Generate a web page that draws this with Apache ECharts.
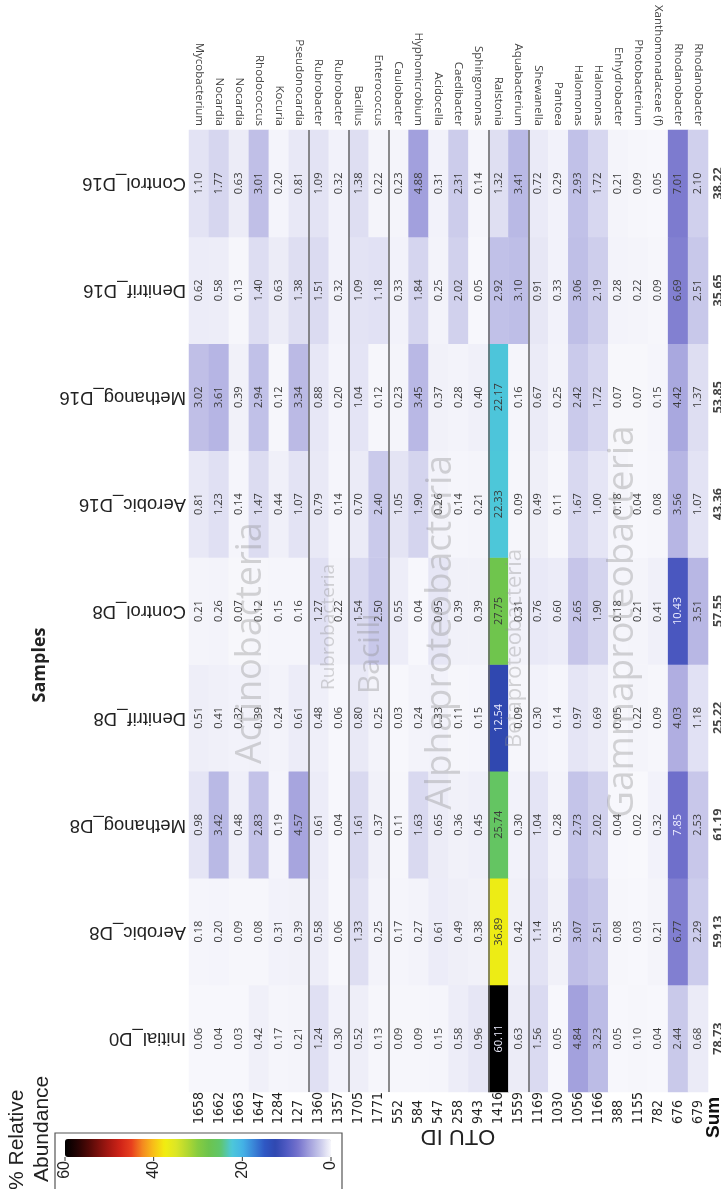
<!DOCTYPE html>
<html lang="en">
<head>
<meta charset="UTF-8">
<title>OTU relative abundance</title>
<script src="https://cdn.jsdelivr.net/npm/echarts@6/dist/echarts.min.js"></script>
<style>html, body { margin: 0; padding: 0; background: #fff; }</style>
</head>
<body>
<div id="container" style="width: 721px; height: 1189px"></div>

<script type="text/javascript">
    // OTU rows of the original table (left to right here)
    var otuIds = ['1658', '1662', '1663', '1647', '1284', '127', '1360', '1357', '1705', '1771',
        '552', '584', '547', '258', '943', '1416', '1559', '1169', '1030', '1056', '1166',
        '388', '1155', '782', '676', '679'];
    var genera = ['Mycobacterium', 'Nocardia', 'Nocardia', 'Rhodococcus', 'Kocuria', 'Pseudonocardia',
        'Rubrobacter', 'Rubrobacter', 'Bacillus', 'Enterococcus', 'Caulobacter', 'Hyphomicrobium',
        'Acidocella', 'Caedibacter', 'Sphingomonas', 'Ralstonia', 'Aquabacterium', 'Shewanella',
        'Pantoea', 'Halomonas', 'Halomonas', 'Enhydrobacter', 'Photobacterium',
        'Xanthomonadaceae (f)', 'Rhodanobacter', 'Rhodanobacter'];
    // samples, bottom to top
    var samples = ['Initial_D0', 'Aerobic_D8', 'Methanog_D8', 'Denitrif_D8', 'Control_D8',
        'Aerobic_D16', 'Methanog_D16', 'Denitrif_D16', 'Control_D16'];

    var initialD0 = [0.06, 0.04, 0.03, 0.42, 0.17, 0.21, 1.24, 0.30, 0.52, 0.13, 0.09, 0.09, 0.15, 0.58, 0.96, 60.11, 0.63, 1.56, 0.05, 4.84, 3.23, 0.05, 0.10, 0.04, 2.44, 0.68];
    var aerobicD8 = [0.18, 0.20, 0.09, 0.08, 0.31, 0.39, 0.58, 0.06, 1.33, 0.25, 0.17, 0.27, 0.61, 0.49, 0.38, 36.89, 0.42, 1.14, 0.35, 3.07, 2.51, 0.08, 0.03, 0.21, 6.77, 2.29];
    var methanogD8 = [0.98, 3.42, 0.48, 2.83, 0.19, 4.57, 0.61, 0.04, 1.61, 0.37, 0.11, 1.63, 0.65, 0.36, 0.45, 25.74, 0.30, 1.04, 0.28, 2.73, 2.02, 0.04, 0.02, 0.32, 7.85, 2.53];
    var denitrifD8 = [0.51, 0.41, 0.32, 0.39, 0.24, 0.61, 0.48, 0.06, 0.80, 0.25, 0.03, 0.24, 0.33, 0.11, 0.15, 12.54, 0.09, 0.30, 0.14, 0.97, 0.69, 0.05, 0.22, 0.09, 4.03, 1.18];
    var controlD8 = [0.21, 0.26, 0.07, 0.12, 0.15, 0.16, 1.27, 0.22, 1.54, 2.50, 0.55, 0.04, 0.95, 0.39, 0.39, 27.75, 0.31, 0.76, 0.60, 2.65, 1.90, 0.18, 0.21, 0.41, 10.43, 3.51];
    var aerobicD16 = [0.81, 1.23, 0.14, 1.47, 0.44, 1.07, 0.79, 0.14, 0.70, 2.40, 1.05, 1.90, 0.26, 0.14, 0.21, 22.33, 0.09, 0.49, 0.11, 1.67, 1.00, 0.18, 0.04, 0.08, 3.56, 1.07];
    var methanogD16 = [3.02, 3.61, 0.39, 2.94, 0.12, 3.34, 0.88, 0.20, 1.04, 0.12, 0.23, 3.45, 0.37, 0.28, 0.40, 22.17, 0.16, 0.67, 0.25, 2.42, 1.72, 0.07, 0.07, 0.15, 4.42, 1.37];
    var denitrifD16 = [0.62, 0.58, 0.13, 1.40, 0.63, 1.38, 1.51, 0.32, 1.09, 1.18, 0.33, 1.84, 0.25, 2.02, 0.05, 2.92, 3.10, 0.91, 0.33, 3.06, 2.19, 0.28, 0.22, 0.09, 6.69, 2.51];
    var controlD16 = [1.10, 1.77, 0.63, 3.01, 0.20, 0.81, 1.09, 0.32, 1.38, 0.22, 0.23, 4.88, 0.31, 2.31, 0.14, 1.32, 3.41, 0.72, 0.29, 2.93, 1.72, 0.21, 0.09, 0.05, 7.01, 2.10];
    var sums = [78.73, 59.13, 61.19, 25.22, 57.55, 43.36, 53.85, 35.65, 38.22];

    var groups = ['Actinobacteria', 'Rubrobacteria', 'Bacilli', 'Alphaproteobacteria', 'Betaproteobacteria', 'Gammaproteobacteria'];
    var groupStart = [0, 6, 8, 10, 15, 17];
    var legendTicks = [60, 40, 20, 0];

    // layout / style (not data)
    var wmLayout = [
        {x: 3.1, y: 4.2, size: 36},
        {x: 7.0, y: 4.35, size: 19},
        {x: 9.1, y: 4.1, size: 30},
        {x: 12.6, y: 4.3, size: 37},
        {x: 16.3, y: 4.15, size: 22},
        {x: 21.7, y: 4.4, size: 37}
    ];
    var colorScale = ['#f8f8fc', '#c8c8ea', '#a09edc', '#7472cc', '#505ac2', '#3048b0', '#2f58c4',
        '#3a86d8', '#44b4e6', '#4ec8d8', '#60c66a', '#6cc44e', '#86cc40', '#b4d830', '#dce626',
        '#f2ee10', '#f8c018', '#f48a20', '#e8401e', '#d02418', '#a81812', '#7a100c', '#4a0806',
        '#200303', '#000000'];
    var barLeft = 65, barTop = 1139, barLen = 266, barThick = 18;

    var xCats = otuIds.concat(['Sum']);
    var values = [initialD0, aerobicD8, methanogD8, denitrifD8, controlD8,
        aerobicD16, methanogD16, denitrifD16, controlD16];

    // light text only on the dark blue and black cells
    function labelColor(v) {
        return (v > 7.5 && v < 20) || v > 45 ? '#eeeeff' : '#3a3a3a';
    }

    var heatData = [];
    values.forEach(function (row, s) {
        row.forEach(function (v, i) {
            heatData.push({value: [i, s, v], label: {color: labelColor(v)}});
        });
    });

    var dom = document.getElementById('container');
    var myChart = echarts.init(dom, null, {renderer: 'canvas'});

    var option = {
        animation: false,
        backgroundColor: '#fff',
        grid: {left: 189, top: 130, width: 539, height: 962, containLabel: false, outerBoundsMode: 'none'},
        xAxis: [
            {
                type: 'category', data: xCats, position: 'bottom',
                axisLine: {show: false}, axisTick: {show: false}, splitLine: {show: false},
                axisLabel: {
                    interval: 0, rotate: 90, align: 'left', margin: 32, fontSize: 14,
                    fontFamily: "'Liberation Sans Narrow', 'DejaVu Sans Condensed', sans-serif", color: '#222',
                    formatter: function (v) { return v === 'Sum' ? '' : v; }
                }
            },
            {
                type: 'category', data: genera.concat(['']), position: 'top',
                axisLine: {show: false}, axisTick: {show: false}, splitLine: {show: false},
                axisLabel: {interval: 0, rotate: 90, margin: 4, fontSize: 11.5, fontFamily: 'Open Sans', color: '#444'}
            },
            {type: 'value', min: 0, max: xCats.length, show: false}
        ],
        yAxis: [
            {
                type: 'category', data: samples,
                axisLine: {show: false}, axisTick: {show: false}, splitLine: {show: false},
                axisLabel: {rotate: 180, margin: 3, fontSize: 18.5, fontFamily: 'Liberation Sans', color: '#222'}
            },
            {type: 'value', min: 0, max: samples.length, show: false}
        ],
        visualMap: {
            type: 'continuous', min: 0, max: 60, seriesIndex: 0, orient: 'horizontal', inverse: true,
            left: barLeft, top: barTop, itemWidth: barThick, itemHeight: barLen, padding: 0,
            calculable: false, showLabel: false, text: null,
            inRange: {color: colorScale}
        },
        series: [
            {
                name: 'abundance', type: 'heatmap', xAxisIndex: 0, yAxisIndex: 0,
                data: heatData,
                itemStyle: {borderWidth: 0},
                label: {
                    show: true, rotate: 90, fontSize: 11, fontFamily: 'Open Sans',
                    formatter: function (p) { return p.value[2].toFixed(2); }
                },
                emphasis: {disabled: true}
            },
            {
                name: 'sum', type: 'scatter', xAxisIndex: 0, yAxisIndex: 0,
                data: sums.map(function (v, s) { return [xCats.length - 1, s, v]; }),
                symbolSize: 1, itemStyle: {color: 'rgba(0,0,0,0)'}, silent: true,
                label: {
                    show: true, position: 'inside', rotate: 90, fontSize: 12.5, fontWeight: 'bold',
                    fontFamily: 'Open Sans', color: '#111',
                    formatter: function (p) { return p.value[2].toFixed(2); }
                }
            },
            {
                name: 'groups', type: 'scatter', xAxisIndex: 2, yAxisIndex: 1, silent: true, z: 3,
                data: groups.map(function (g, k) {
                    return {value: [wmLayout[k].x, wmLayout[k].y], name: g, label: {fontSize: wmLayout[k].size}};
                }),
                symbolSize: 1, itemStyle: {color: 'rgba(0,0,0,0)'},
                label: {
                    show: true, position: 'inside', rotate: 90, formatter: '{b}',
                    fontFamily: 'Open Sans', color: 'rgba(140,140,140,0.45)'
                }
            },
            {
                name: 'separators', type: 'line', xAxisIndex: 2, yAxisIndex: 1, data: [],
                markLine: {
                    silent: true, symbol: 'none', label: {show: false},
                    lineStyle: {color: '#666', width: 1.5, type: 'solid'},
                    data: groupStart.slice(1).map(function (v) { return {xAxis: v}; })
                }
            }
        ]
    };
    myChart.setOption(option);

    // titles, legend frame and legend ticks
    var sumX = myChart.convertToPixel({xAxisIndex: 0}, 'Sum');
    var gfx = [
        {type: 'text', x: sumX - 4, y: 1138, rotation: Math.PI / 2,
            style: {text: 'Sum', fontSize: 19, fontWeight: 'bold', fontFamily: 'Liberation Sans', fill: '#111', align: 'left', verticalAlign: 'middle'}},
        {type: 'text', x: 458, y: 1136, rotation: Math.PI,
            style: {text: 'OTU ID', fontSize: 22, fontFamily: 'Liberation Sans', fill: '#222', align: 'center', verticalAlign: 'middle'}},
        {type: 'text', x: 40, y: 665, rotation: Math.PI / 2,
            style: {text: 'Samples', fontSize: 18, fontWeight: 'bold', fontFamily: 'Open Sans', fill: '#222', align: 'center', verticalAlign: 'middle'}},
        {type: 'text', x: 17, y: 1190, rotation: Math.PI / 2,
            style: {text: '% Relative', fontSize: 21, fontFamily: 'Liberation Sans', fill: '#222', align: 'left', verticalAlign: 'middle'}},
        {type: 'text', x: 42, y: 1182, rotation: Math.PI / 2,
            style: {text: 'Abundance', fontSize: 21, fontFamily: 'Liberation Sans', fill: '#222', align: 'left', verticalAlign: 'middle'}},
        {type: 'rect', shape: {x: 55, y: 1133, width: 287, height: 70},
            style: {fill: 'none', stroke: '#555', lineWidth: 1.2}}
    ];
    legendTicks.forEach(function (t) {
        var tx = barLeft + (60 - t) / 60 * barLen;
        gfx.push({type: 'line', shape: {x1: tx, y1: barTop + barThick, x2: tx, y2: barTop + barThick + 4},
            style: {stroke: '#333', lineWidth: 1}});
        gfx.push({type: 'text', x: tx, y: barTop + barThick + 4, rotation: Math.PI / 2,
            style: {text: String(t), fontSize: 16, fontFamily: 'Liberation Sans', fill: '#222', align: 'right', verticalAlign: 'middle'}});
    });
    myChart.setOption({graphic: gfx});

    window.addEventListener('resize', myChart.resize);
</script>
</body>
</html>
